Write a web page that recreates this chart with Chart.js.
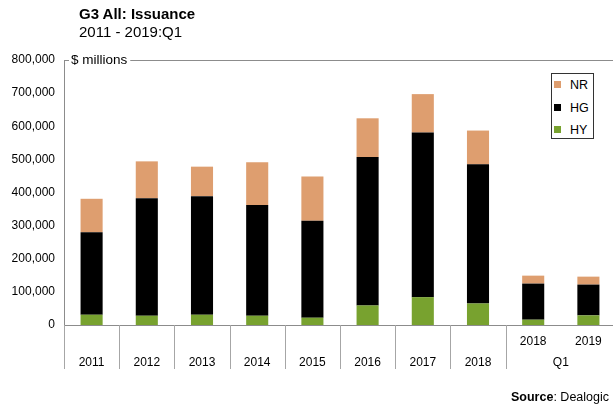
<!DOCTYPE html>
<html>
<head>
<meta charset="utf-8">
<script src="https://cdn.jsdelivr.net/npm/chart.js@4/dist/chart.umd.min.js"></script>
<style>
  html, body { margin: 0; padding: 0; background: #fff; overflow: hidden; }
  #wrap { position: relative; width: 613px; height: 405px; overflow: hidden; font-family: "Liberation Sans", Arial, sans-serif; color: #000; }
  #plot { position: absolute; left: 0; top: 0; width: 625px; height: 405px; }
  .title { position: absolute; left: 79px; top: 5px; font-size: 15px; font-weight: bold; line-height: 18px; white-space: nowrap; }
  .sub { position: absolute; left: 79px; top: 23px; font-size: 15px; line-height: 18px; white-space: nowrap; }
  .source { position: absolute; right: 4px; top: 389px; font-size: 12.5px; line-height: 16px; white-space: nowrap; }
  #legend { position: absolute; left: 551px; top: 73px; width: 41px; height: 64px; border: 1px solid #333; background: #fff; }
  #legend div { position: absolute; left: 2px; height: 14px; line-height: 14px; font-size: 12.5px; white-space: nowrap; }
  #legend span { display: inline-block; width: 7px; height: 7px; margin-right: 9px; vertical-align: 1px; }
</style>
</head>
<body>
<div id="wrap">
  <div id="plot"><canvas id="chart" width="625" height="405"></canvas></div>
  <div class="title">G3 All: Issuance</div>
  <div class="sub">2011 - 2019:Q1</div>
  <div id="legend"></div>
  <div class="source"><b>Source</b>: Dealogic</div>
</div>
<script>
// categories ($ millions), the last two are Q1 only
var years = ['2011', '2012', '2013', '2014', '2015', '2016', '2017', '2018', '2018', '2019'];
var q1Count = 2;

var hy = [31000, 28000, 31000, 28000, 22000, 59000, 84000, 65000, 16000, 29000];
var hg = [249000, 355000, 358000, 334000, 293000, 448000, 497000, 420000, 109000, 93000];
var nr = [101000, 111000, 89000, 129000, 133000, 117000, 116000, 102000, 24000, 24000];

var yTicks = [0, 100000, 200000, 300000, 400000, 500000, 600000, 700000, 800000];

var colNR = '#DE9E6F';
var colHG = '#000000';
var colHY = '#78A22F';

// full years sit on the 2nd label line, Q1 bars on the 1st
var xLabels = years.map(function(y, i) {
    return i >= years.length - q1Count ? [y, ''] : ['', y];
});

// legend box (top to bottom: NR, HG, HY)
var legendItems = [['NR', colNR], ['HG', colHG], ['HY', colHY]];
var legend = document.getElementById('legend');
legendItems.forEach(function(it, i) {
    var row = document.createElement('div');
    row.style.top = (4 + i * 22.5) + 'px';
    var sw = document.createElement('span');
    sw.style.background = it[1];
    row.appendChild(sw);
    row.appendChild(document.createTextNode(it[0]));
    legend.appendChild(row);
});

// frame at the top with "$ millions", category dividers and the Q1 group label
var framePlugin = {
    id: 'frame',
    afterDraw: function(chart) {
        var ctx = chart.ctx;
        var a = chart.chartArea;
        var x = chart.scales.x;
        ctx.save();
        ctx.font = '13.5px "Liberation Sans", Arial, sans-serif';
        ctx.fillStyle = '#000';
        ctx.textBaseline = 'middle';
        ctx.textAlign = 'left';
        var txt = '$ millions';
        var tx = a.left + 7;
        var w = ctx.measureText(txt).width;
        ctx.fillText(txt, tx, a.top);

        ctx.strokeStyle = '#8c8c8c';
        ctx.lineWidth = 1;
        var ty = Math.round(a.top) + 0.5;
        ctx.beginPath();
        ctx.moveTo(a.left, ty);
        ctx.lineTo(a.left + 5, ty);
        ctx.moveTo(tx + w + 3, ty);
        ctx.lineTo(a.right, ty);
        ctx.stroke();

        // dividers under the axis
        var step = x.getPixelForValue(1) - x.getPixelForValue(0);
        ctx.strokeStyle = '#a6a6a6';
        ctx.beginPath();
        for (var i = 0; i <= years.length - q1Count; i++) {
            var xb = Math.round(x.getPixelForValue(i) - step / 2) + 0.5;
            ctx.moveTo(xb, a.bottom);
            ctx.lineTo(xb, a.bottom + 44);
        }
        ctx.stroke();

        // Q1 label centred under the quarterly bars
        var first = years.length - q1Count;
        var qx = (x.getPixelForValue(first) + x.getPixelForValue(years.length - 1)) / 2;
        ctx.font = '12px "Liberation Sans", Arial, sans-serif';
        ctx.textAlign = 'center';
        ctx.fillText('Q1', qx, a.bottom + 37.5);
        ctx.restore();
    }
};

Chart.defaults.font.family = '"Liberation Sans", Arial, sans-serif';
Chart.defaults.font.size = 12;
Chart.defaults.color = '#000';

new Chart(document.getElementById('chart'), {
    type: 'bar',
    data: {
        labels: xLabels,
        datasets: [
            { label: 'HY', data: hy, backgroundColor: colHY },
            { label: 'HG', data: hg, backgroundColor: colHG },
            { label: 'NR', data: nr, backgroundColor: colNR }
        ]
    },
    options: {
        responsive: false,
        animation: false,
        devicePixelRatio: 1,
        layout: { padding: { left: 0, top: 60, right: 9, bottom: 0 } },
        datasets: { bar: { barPercentage: 0.4, categoryPercentage: 1, borderWidth: 0 } },
        plugins: { legend: { display: false }, tooltip: { enabled: false } },
        scales: {
            x: {
                stacked: true,
                grid: { display: false, drawTicks: false },
                border: { display: true, color: '#8c8c8c', width: 1 },
                ticks: { padding: 5.5, maxRotation: 0, autoSkip: false, font: { size: 12, lineHeight: 1.8 } },
                afterFit: function(scale) { scale.height = 80; }
            },
            y: {
                stacked: true,
                min: 0,
                max: 800000,
                grid: { display: false, drawTicks: false },
                border: { display: true, color: '#8c8c8c', width: 1 },
                afterBuildTicks: function(scale) {
                    scale.ticks = yTicks.map(function(v) { return { value: v }; });
                },
                ticks: {
                    padding: 9,
                    callback: function(v) { return v.toLocaleString('en-US'); }
                },
                afterFit: function(scale) { scale.width = 64; }
            }
        }
    },
    plugins: [framePlugin]
});
</script>
</body>
</html>
